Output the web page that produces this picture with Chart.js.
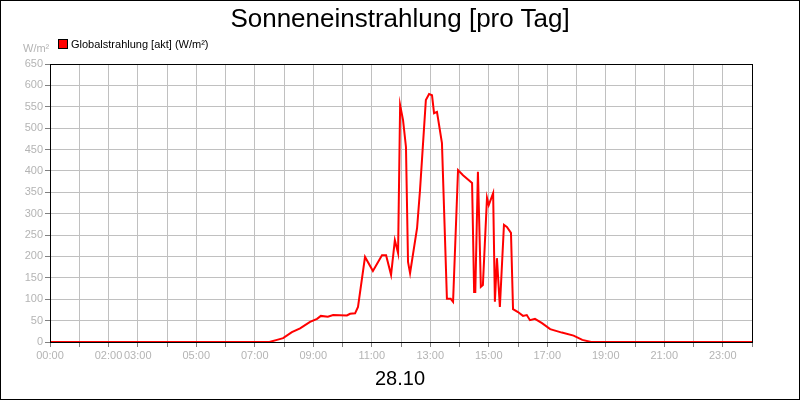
<!DOCTYPE html>
<html><head><meta charset="utf-8">
<script src="https://cdn.jsdelivr.net/npm/chart.js@4"></script>
<style>
body{margin:0;background:#fff;font-family:"Liberation Sans",Arial,sans-serif}
#box{position:relative;width:800px;height:400px;border:1px solid #000;box-sizing:border-box;overflow:hidden}
#c{position:absolute;left:-1px;top:-1px}
.t{position:absolute;white-space:nowrap}
</style></head><body>
<div id="box">
<canvas id="c" width="800" height="400"></canvas>
<div class="t" style="left:0;width:798px;top:2px;text-align:center;font-size:26px;color:#000">Sonneneinstrahlung [pro Tag]</div>
<div class="t" style="left:57px;top:37px;font-size:11px;color:#000"><span style="display:inline-block;width:8px;height:8px;background:#f00;border:1px solid #000;margin-right:3px;vertical-align:-1px"></span>Globalstrahlung [akt] (W/m²)</div>
<div class="t" style="left:22px;top:41px;font-size:11px;color:#b4b4b4">W/m²</div>
<div class="t" style="left:0;width:798px;top:366px;text-align:center;font-size:20px;color:#000">28.10</div>
</div>
<script>
const hours = [0,7.5,7.76,7.97,8.27,8.55,8.89,9.13,9.26,9.5,9.68,10.15,10.26,10.43,10.53,10.77,11.04,11.35,11.49,11.66,11.79,11.9,11.97,12.07,12.17,12.24,12.31,12.55,12.65,12.85,12.96,13.06,13.13,13.23,13.4,13.57,13.7,13.78,13.95,14.12,14.43,14.5,14.54,14.63,14.73,14.8,14.94,15.0,15.15,15.21,15.28,15.38,15.52,15.62,15.76,15.83,16.0,16.17,16.3,16.41,16.58,16.82,17.1,17.5,17.9,18.2,18.5,24];
const values = [0,0,5,9,23,32,47,54,61,59,63,62,66,67,82,199,166,203,203,157,238,208,554,519,456,187,161,267,355,566,580,577,535,538,465,101,101,94,402,390,372,117,117,398,129,133,337,320,348,94,196,82,274,269,255,77,70,61,63,51,54,44,30,22,15,5,0,0];
const tickLabels = ['00:00','02:00','03:00','05:00','07:00','09:00','11:00','13:00','15:00','17:00','19:00','21:00','23:00'];
const yTicks = [0,50,100,150,200,250,300,350,400,450,500,550,600,650];
const border = {id:'border',afterDraw(ch){const a=ch.chartArea,c=ch.ctx;c.save();c.strokeStyle='#000';c.lineWidth=1;c.strokeRect(Math.round(a.left)+0.5,Math.round(a.top)+0.5,Math.round(a.right-a.left),Math.round(a.bottom-a.top));c.restore();}};
new Chart(document.getElementById('c'),{
 type:'line',
 data:{datasets:[{data:hours.map((h,i)=>({x:h,y:values[i]})),borderColor:'#ff0000',borderWidth:2,pointRadius:0,tension:0,fill:false}]},
 options:{responsive:false,animation:false,
  layout:{padding:{left:0,right:48,top:64,bottom:38}},
  plugins:{legend:{display:false},tooltip:{enabled:false}},
  scales:{
   x:{type:'linear',min:0,max:24,afterFit(a){a.height=20;},
      afterBuildTicks(a){a.ticks=[];for(let i=0;i<=24;i++)a.ticks.push({value:i});},
      grid:{color:'#c0c0c0',tickLength:5,tickColor:'#808080'},border:{color:'#000'},
      ticks:{autoSkip:false,maxRotation:0,color:'#b4b4b4',font:{family:'Liberation Sans',size:11},padding:2,
        callback(v){const s=String(v).padStart(2,'0')+':00';return tickLabels.includes(s)?s:'';}}},
   y:{min:0,max:650,afterFit(a){a.width=50;},
      afterBuildTicks(a){a.ticks=yTicks.map(v=>({value:v}));},
      grid:{color:'#c0c0c0',tickLength:5,tickColor:'#808080'},border:{color:'#000'},
      ticks:{color:'#b4b4b4',font:{family:'Liberation Sans',size:11},padding:2}}
  }},
 plugins:[border]
});
</script>
</body></html>
